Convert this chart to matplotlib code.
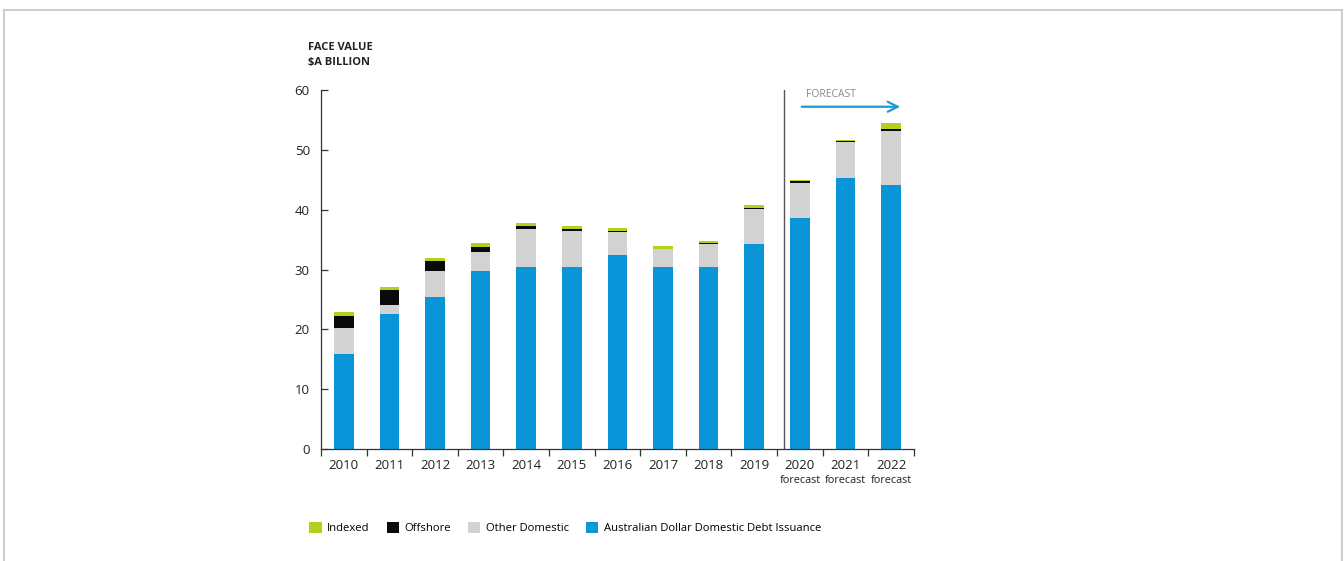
import matplotlib
matplotlib.use("Agg")
import matplotlib.pyplot as plt
import matplotlib.transforms as mtransforms
from matplotlib.patches import Patch
import numpy as np

plt.rcParams["font.family"] = ["Open Sans", "DejaVu Sans"]

# ---------------------------------------------------------------------------
# Data ($A billion face value)
# ---------------------------------------------------------------------------
years = ["2010", "2011", "2012", "2013", "2014", "2015", "2016",
         "2017", "2018", "2019", "2020", "2021", "2022"]
forecast_flags = [False] * 10 + [True] * 3

aud_domestic = [15.8, 22.6, 25.4, 29.7, 30.5, 30.5, 32.4, 30.5, 30.5, 34.3, 38.6, 45.3, 44.1]
other_domestic = [4.4, 1.5, 4.3, 3.3, 6.3, 5.9, 3.8, 2.9, 3.8, 5.8, 5.8, 6.0, 9.0]
offshore = [2.1, 2.5, 1.8, 0.8, 0.5, 0.4, 0.3, 0.1, 0.1, 0.1, 0.4, 0.1, 0.3]
indexed = [0.6, 0.4, 0.5, 0.6, 0.4, 0.4, 0.4, 0.5, 0.4, 0.6, 0.2, 0.3, 1.0]

series_names = ["Indexed", "Offshore", "Other Domestic",
                "Australian Dollar Domestic Debt Issuance"]
series_colors = ["#b6cf1f", "#0a0a0a", "#d2d2d2", "#0b95d9"]

y_ticks = [0, 10, 20, 30, 40, 50, 60]

# ---------------------------------------------------------------------------
# Plot
# ---------------------------------------------------------------------------
fig = plt.figure(figsize=(13.44, 5.61), dpi=100)
ax = fig.add_axes([0.2388, 0.1996, 0.4412, 0.64])

x = np.arange(len(years))
width = 0.43
stack = [aud_domestic, other_domestic, offshore, indexed]
stack_colors = [series_colors[3], series_colors[2], series_colors[1], series_colors[0]]
bottom = np.zeros(len(years))
for vals, col in zip(stack, stack_colors):
    ax.bar(x, vals, width, bottom=bottom, color=col, linewidth=0)
    bottom += np.array(vals)

ax.set_xlim(-0.5, len(years) - 0.5)
ax.set_ylim(0, 60)
ax.set_yticks(y_ticks)
ax.tick_params(axis="y", direction="in", length=5, width=0.9, labelsize=9.5,
               pad=8, color="#333333", labelcolor="#222222")
ax.set_xticks(x)
ax.set_xticklabels(years)
ax.set_xticks(np.arange(-0.5, len(years)), minor=True)
ax.tick_params(axis="x", which="major", length=0, labelsize=9.5, pad=7,
               labelcolor="#222222")
ax.tick_params(axis="x", which="minor", direction="out", length=5, width=0.9,
               color="#333333")

for side in ["top", "right"]:
    ax.spines[side].set_visible(False)
for side in ["left", "bottom"]:
    ax.spines[side].set_color("#333333")
    ax.spines[side].set_linewidth(0.9)

# "forecast" sub labels
trans = mtransforms.blended_transform_factory(ax.transData, ax.transAxes)
for xi, flag in zip(x, forecast_flags):
    if flag:
        ax.text(xi, -0.072, "forecast", transform=trans, ha="center", va="top",
                fontsize=7.8, color="#222222")

# forecast divider and arrow
ax.axvline(9.65, ymin=0, ymax=1, color="#555555", linewidth=1.0)
ax.annotate("", xy=(12.26, 57.2), xytext=(9.98, 57.2),
            arrowprops=dict(arrowstyle="->", color="#1a9ad9", lw=1.6,
                            mutation_scale=18))
ax.text(10.13, 59.3, "FORECAST", fontsize=7.5, color="#888888",
        ha="left", va="center")

# axis title
fig.text(308 / 1344, 1 - 47 / 561, "FACE VALUE", fontsize=8, fontweight="bold",
         color="#222222", ha="left", va="center")
fig.text(308 / 1344, 1 - 63 / 561, "$A BILLION", fontsize=8, fontweight="bold",
         color="#222222", ha="left", va="center")

# legend
handles = [Patch(facecolor=c, edgecolor="none") for c in series_colors]
fig.legend(handles, series_names, loc="center left",
           bbox_to_anchor=(299 / 1344, 1 - 528 / 561), ncol=4, frameon=False,
           fontsize=8.1, handlelength=1.1, handleheight=1.1, handletextpad=0.5,
           columnspacing=1.5)

# thin frame around the image
fig.add_artist(plt.Line2D([4 / 1344, 4 / 1344], [0, 1 - 10 / 561],
                          transform=fig.transFigure, color="#c4c4c4", lw=1.2))
fig.add_artist(plt.Line2D([4 / 1344, 1342 / 1344], [1 - 10 / 561, 1 - 10 / 561],
                          transform=fig.transFigure, color="#c4c4c4", lw=1.2))
fig.add_artist(plt.Line2D([1342 / 1344, 1342 / 1344], [0, 1 - 10 / 561],
                          transform=fig.transFigure, color="#c4c4c4", lw=1.2))

fig.savefig("out.png", dpi=100)
